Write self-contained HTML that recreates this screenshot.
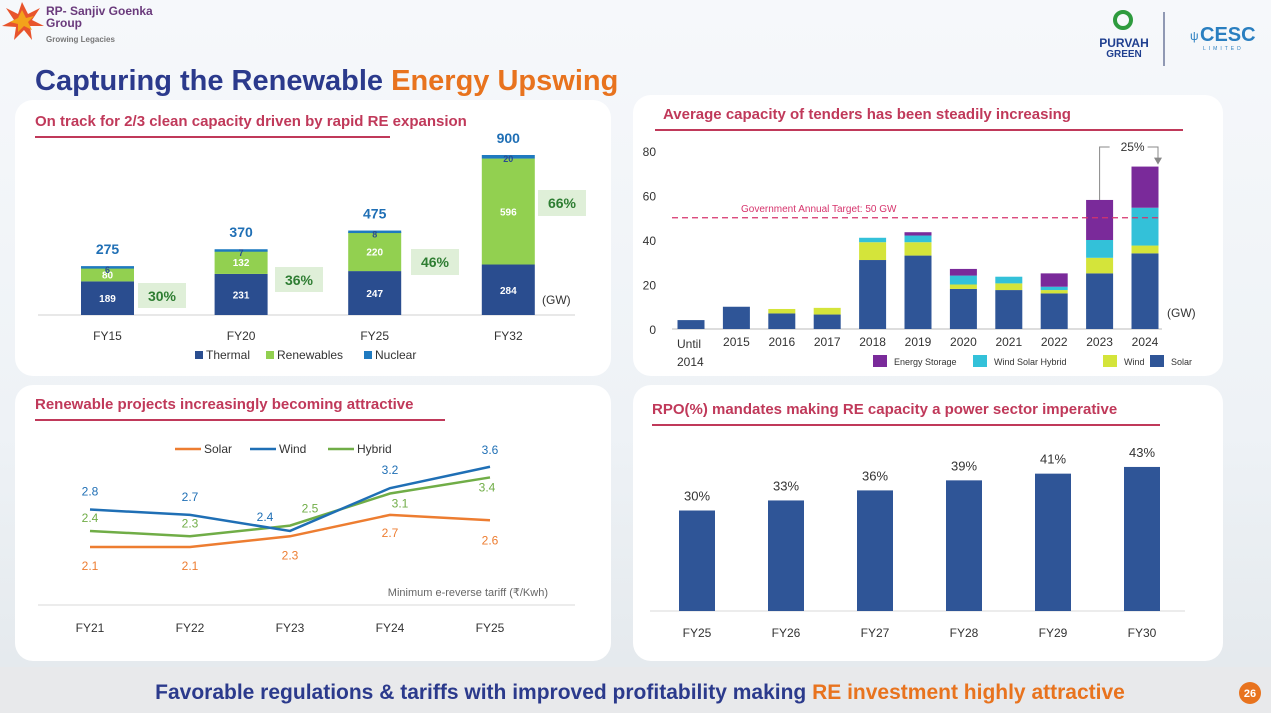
<!DOCTYPE html>
<html><head><meta charset="utf-8"><style>
html,body{margin:0;padding:0;width:1271px;height:713px;overflow:hidden;background:#f1f4f8;font-family:"Liberation Sans",sans-serif}
svg{display:block}
text{font-family:"Liberation Sans","DejaVu Sans",sans-serif}
</style></head><body>
<svg id="s" width="1271" height="713" viewBox="0 0 1271 713" xmlns="http://www.w3.org/2000/svg">
<defs><linearGradient id="bg" x1="0" y1="0" x2="0" y2="1"><stop offset="0" stop-color="#f6f8fb"/><stop offset="0.6" stop-color="#eef2f6"/><stop offset="1" stop-color="#e3e8ec"/></linearGradient></defs>
<rect width="1271" height="713" fill="url(#bg)"/>
<g>
<polygon points="22,2 28,14 40,8 32,20 44,26 30,26 32,40 24,30 14,40 16,27 2,26 14,20 6,8 18,14" fill="#e8542c"/>
<polygon points="22,10 26,18 34,16 28,22 32,30 24,26 18,32 18,24 10,22 18,18" fill="#f3a21b"/>
<text x="46" y="15" font-size="12" font-weight="bold" fill="#6a3a7c">RP- Sanjiv Goenka</text>
<text x="46" y="27" font-size="12" font-weight="bold" fill="#6a3a7c">Group</text>
<text x="46" y="42" font-size="8" font-weight="bold" fill="#777">Growing Legacies</text>
</g>
<g>
<circle cx="1123" cy="20" r="8" fill="none" stroke="#2e9b3e" stroke-width="4"/>
<text x="1124" y="47" font-size="12" font-weight="bold" fill="#1f3f8f" text-anchor="middle">PURVAH</text>
<text x="1124" y="57" font-size="10" font-weight="bold" fill="#1f3f8f" text-anchor="middle">GREEN</text>
<line x1="1164" y1="12" x2="1164" y2="66" stroke="#2b3a6c" stroke-width="1"/>
</g>
<g>
<text x="1190" y="40" font-size="12" fill="#2a7fc0">ψ</text>
<text x="1200" y="41" font-size="20" font-weight="bold" fill="#2a7fc0">CESC</text>
<text x="1203" y="50" font-size="5" fill="#2a7fc0" letter-spacing="3">LIMITED</text>
</g>
<text x="35" y="90" font-size="29" font-weight="bold"><tspan fill="#2b3a8c">Capturing the Renewable </tspan><tspan fill="#e8731e">Energy Upswing</tspan></text>

<rect x="15" y="100" width="596" height="276" rx="18" fill="#fff"/>
<rect x="633" y="95" width="590" height="281" rx="18" fill="#fff"/>
<rect x="15" y="385" width="596" height="276" rx="18" fill="#fff"/>
<rect x="633" y="385" width="590" height="276" rx="18" fill="#fff"/>

<text x="35" y="126" font-size="15" font-weight="bold" fill="#c0395a">On track for 2/3 clean capacity driven by rapid RE expansion</text>
<line x1="35" y1="137" x2="390" y2="137" stroke="#c0395a" stroke-width="2"/>
<text x="663" y="119" font-size="15" font-weight="bold" fill="#c0395a">Average capacity of tenders has been steadily increasing</text>
<line x1="655" y1="130" x2="1183" y2="130" stroke="#c0395a" stroke-width="2"/>
<text x="35" y="409" font-size="15" font-weight="bold" fill="#c0395a">Renewable projects increasingly becoming attractive</text>
<line x1="35" y1="420" x2="445" y2="420" stroke="#c0395a" stroke-width="2"/>
<text x="652" y="414" font-size="15" font-weight="bold" fill="#c0395a">RPO(%) mandates making RE capacity a power sector imperative</text>
<line x1="652" y1="425" x2="1160" y2="425" stroke="#c0395a" stroke-width="2"/>

<rect x="0" y="667" width="1271" height="46" fill="#e8e9eb"/>
<text x="640" y="699" font-size="21" font-weight="bold" text-anchor="middle"><tspan fill="#2b3a8c">Favorable regulations &amp; tariffs with improved profitability making </tspan><tspan fill="#e8731e">RE investment highly attractive</tspan></text>
<circle cx="1250" cy="693" r="11" fill="#e8731e"/>
<text x="1250" y="697" font-size="11" font-weight="bold" fill="#fff" text-anchor="middle">26</text>
<g id="g"></g>
</svg>
<script>
// ---- Chart 1: capacity mix
const capCats=["FY15","FY20","FY25","FY32"];
const capThermal=[189,231,247,284];
const capRenew=[80,132,220,596];
const capNuclear=[6,7,8,20];
const capTotals=[275,370,475,900];
const capPct=["30%","36%","46%","66%"];
// ---- Chart 2: tenders
const tenCats=["Until 2014","2015","2016","2017","2018","2019","2020","2021","2022","2023","2024"];
const tenSolar=[4,10,7,6.5,31,33,18,17.5,16,25,34];
const tenWind=[0,0,2,3,8,6,2,3,1.5,7,3.5];
const tenHybrid=[0,0,0,0,2,3,4,3,1.5,8,17];
const tenStorage=[0,0,0,0,0,1.5,3,0,6,18,18.5];
const tenTicks=[0,20,40,60,80];
const tenTarget=50;
// ---- Chart 3: tariffs
const tarCats=["FY21","FY22","FY23","FY24","FY25"];
const tarSolar=[2.1,2.1,2.3,2.7,2.6];
const tarWind=[2.8,2.7,2.4,3.2,3.6];
const tarHybrid=[2.4,2.3,2.5,3.1,3.4];
// ---- Chart 4: RPO
const rpoCats=["FY25","FY26","FY27","FY28","FY29","FY30"];
const rpoVals=[30,33,36,39,41,43];

const NS="http://www.w3.org/2000/svg";
const G=document.getElementById('g');
function el(tag,attrs,txt){const e=document.createElementNS(NS,tag);for(const k in attrs)e.setAttribute(k,attrs[k]);if(txt!==undefined)e.textContent=txt;G.appendChild(e);return e;}

// Chart 1
{const base=315,k=160/900,x0=107.5,step=133.6,bw=53;
const X=i=>x0+i*step,Y=v=>base-v*k;
let e=el('line',{x1:38,y1:base,x2:575,y2:base,stroke:'#d0d0d0'});

const pctBox=[[138,283,48,25],[275,267,48,25],[411,249,48,26],[538,190,48,26]];
capCats.forEach((c,i)=>{
 const th=capThermal[i],re=capRenew[i],nu=capNuclear[i],x=X(i)-bw/2;
 e=el('rect',{x:x,y:Y(th),width:bw,height:th*k,fill:'#2a4d8f'});
 e=el('rect',{x:x,y:Y(th+re),width:bw,height:re*k,fill:'#92d050'});
 e=el('rect',{x:x,y:Y(th+re+nu),width:bw,height:Math.max(nu*k,2.5),fill:'#1f7ac0'});
 e=el('text',{x:X(i),y:Y(th/2)+4,'font-size':10,'font-weight':'bold',fill:'#fff','text-anchor':'middle'},th);
 e=el('text',{x:X(i),y:Y(th+re/2)+4,'font-size':10,'font-weight':'bold',fill:'#fff','text-anchor':'middle'},re);
 e=el('text',{x:X(i),y:Y(th+re+nu)+7,'font-size':9,'font-weight':'bold',fill:'#2a4d8f','text-anchor':'middle'},nu);
 e=el('text',{x:X(i),y:Y(capTotals[i])-12,'font-size':14,'font-weight':'bold',fill:'#1f6fb5','text-anchor':'middle'},capTotals[i]);
 const b=pctBox[i];
 e=el('rect',{x:b[0],y:b[1],width:b[2],height:b[3],fill:'#dfefd8'});
 e=el('text',{x:b[0]+b[2]/2,y:b[1]+18,'font-size':14,'font-weight':'bold',fill:'#2e7d32','text-anchor':'middle'},capPct[i]);
 e=el('text',{x:X(i),y:340,'font-size':12,fill:'#333','text-anchor':'middle'},c);
});
e=el('text',{x:542,y:304,'font-size':12,fill:'#333'},'(GW)');
[['Thermal','#2a4d8f',195],['Renewables','#92d050',266],['Nuclear','#1f7ac0',364]].forEach(l=>{
 e=el('rect',{x:l[2],y:351,width:8,height:8,fill:l[1]});
 e=el('text',{x:l[2]+11,y:359,'font-size':12,fill:'#333'},l[0]);
});}

// Chart 2
{const base=329,k=178/80,x0=691,step=45.4,bw=27;
const X=i=>x0+i*step,Y=v=>base-v*k;
let e;
tenTicks.forEach(t=>{e=el('text',{x:656,y:Y(t)+5,'font-size':12,fill:'#333','text-anchor':'end'},t);});
e=el('line',{x1:672,y1:base,x2:1162,y2:base,stroke:'#bbb'});
const series=[[tenSolar,'#2f5597','solar'],[tenWind,'#d4e43a','wind'],[tenHybrid,'#33c1d9','hybrid'],[tenStorage,'#7a2a9a','storage']];
tenCats.forEach((c,i)=>{let acc=0;
 series.forEach(s=>{const v=s[0][i];if(v>0){e=el('rect',{x:X(i)-bw/2,y:Y(acc+v),width:bw,height:v*k,fill:s[1]});}acc+=v;});
 if(i===0){e=el('text',{x:677,y:348,'font-size':12,fill:'#333'},'Until');
  e=el('text',{x:677,y:366,'font-size':12,fill:'#333'},'2014');}
 else{e=el('text',{x:X(i),y:346,'font-size':12,fill:'#333','text-anchor':'middle'},c);}
});
e=el('line',{x1:672,y1:Y(tenTarget),x2:1160,y2:Y(tenTarget),stroke:'#d6336c','stroke-dasharray':'6,4','stroke-width':1.2});
e=el('text',{x:741,y:Y(tenTarget)-6,'font-size':10,fill:'#d6336c'},'Government Annual Target: 50 GW');
const tot=i=>tenSolar[i]+tenWind[i]+tenHybrid[i]+tenStorage[i];
const a=X(9),b=X(10)+13;
e=el('polyline',{points:`${a},${Y(tot(9))} ${a},147 ${a+10},147`,fill:'none',stroke:'#888'});
e=el('polyline',{points:`${a+48},147 ${b},147 ${b},${Y(tot(10))-8}`,fill:'none',stroke:'#888'});
e=el('polygon',{points:`${b-4},${Y(tot(10))-9} ${b+4},${Y(tot(10))-9} ${b},${Y(tot(10))-2}`,fill:'#888'});
e=el('text',{x:a+33,y:151,'font-size':12,fill:'#333','text-anchor':'middle'},'25%');
e=el('text',{x:1167,y:317,'font-size':12,fill:'#333'},'(GW)');
[['Energy Storage','#7a2a9a',873],['Wind Solar Hybrid','#33c1d9',973],['Wind','#d4e43a',1103],['Solar','#2f5597',1150]].forEach(l=>{
 e=el('rect',{x:l[2],y:355,width:14,height:12,fill:l[1]});
 e=el('text',{x:l[2]+21,y:365,'font-size':9,fill:'#333'},l[0]);
});}

// Chart 3
{const x0=90,step=100,Y=v=>547-(v-2.1)*53.5,X=i=>x0+i*step;let e;
e=el('line',{x1:38,y1:605,x2:575,y2:605,stroke:'#d9d9d9'});
const series=[[tarSolar,'#ed7d31','solar',[19,19,19,18,20],[0,0,0,0,0]],[tarHybrid,'#70ad47','hybrid',[-13,-13,-17,10,10],[0,0,20,10,-3]],[tarWind,'#1f6fb5','wind',[-18,-18,-14,-18,-17],[0,0,-25,0,0]]];
series.forEach(s=>{
 e=el('polyline',{points:s[0].map((v,i)=>X(i)+','+Y(v)).join(' '),fill:'none',stroke:s[1],'stroke-width':2.5});
 s[0].forEach((v,i)=>{e=el('text',{x:X(i)+s[4][i],y:Y(v)+s[3][i]+4,'font-size':12,fill:s[1],'text-anchor':'middle'},v.toFixed(1));});
});
tarCats.forEach((c,i)=>{e=el('text',{x:X(i),y:632,'font-size':12,fill:'#333','text-anchor':'middle'},c);});
e=el('text',{x:548,y:596,'font-size':11,fill:'#666','text-anchor':'end'},'Minimum e-reverse tariff (₹/Kwh)');
[['Solar','#ed7d31',175],['Wind','#1f6fb5',250],['Hybrid','#70ad47',328]].forEach(l=>{
 e=el('line',{x1:l[2],y1:449,x2:l[2]+26,y2:449,stroke:l[1],'stroke-width':2.5});
 e=el('text',{x:l[2]+29,y:453,'font-size':12,fill:'#333'},l[0]);
});}

// Chart 4
{const base=611,k=3.35,x0=697,step=89,bw=36,X=i=>x0+i*step,Y=v=>base-v*k;let e;
e=el('line',{x1:650,y1:base,x2:1185,y2:base,stroke:'#d9d9d9'});
rpoCats.forEach((c,i)=>{
 e=el('rect',{x:X(i)-bw/2,y:Y(rpoVals[i]),width:bw,height:rpoVals[i]*k,fill:'#2f5597'});
 e=el('text',{x:X(i),y:Y(rpoVals[i])-10,'font-size':13,fill:'#333','text-anchor':'middle'},rpoVals[i]+'%');
 e=el('text',{x:X(i),y:637,'font-size':12,fill:'#333','text-anchor':'middle'},c);
});}
</script>
</body></html>
